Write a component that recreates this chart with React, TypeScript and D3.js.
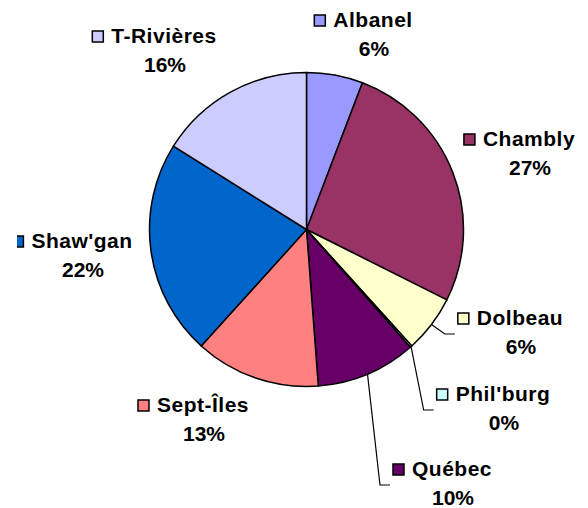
import React, { Component, createRef } from 'react'
import * as d3 from 'd3'

// share of each site
const sites = ['Albanel', 'Chambly', 'Dolbeau', "Phil'burg", 'Québec', 'Sept-Îles', "Shaw'gan", 'T-Rivières']
const shares = [5.8, 26.6, 5.9, 0.2, 10.3, 12.9, 22.2, 16.1]
const colors = ['#9999ff', '#993366', '#ffffcc', '#ccffff', '#660066', '#ff8080', '#0066cc', '#ccccff']

// labels were dragged by hand in the original: centre of the name, baseline of the first line
const labelAt = [[373, 27], [529, 146], [520, 325], [503, 401], [452, 476], [203, 412], [82, 248], [164, 43]]
const withLeader = [false, false, true, true, true, false, false, false]

export default class App extends Component {
  chartRef = createRef<HTMLDivElement>()

  componentDidMount () {
    this.renderChart()
  }

  renderChart () {
    const width = 588
    const height = 508
    const cx = 306.5
    const cy = 229.5
    const radius = 157
    const lineGap = 29

    const container = d3.select(this.chartRef.current)
    container.selectAll('*').remove()

    const svg = container.append('svg')
      .attr('width', width)
      .attr('height', height)
      .style('display', 'block')

    svg.append('defs').append('clipPath')
      .attr('id', 'label-clip')
      .append('rect')
      .attr('x', 17)
      .attr('y', 0)
      .attr('width', width - 17)
      .attr('height', height)

    const total = d3.sum(shares)
    const pct = d3.format('.0%')

    const pie = d3.pie<number>().sort(null).value(d => d)
    const arcs = pie(shares)
    const arc = d3.arc<d3.PieArcDatum<number>>()
      .innerRadius(0)
      .outerRadius(radius)

    const g = svg.append('g')
      .attr('transform', 'translate(' + cx + ',' + cy + ')')

    g.selectAll('.slice')
      .data(arcs)
      .enter()
      .append('path')
      .attr('class', 'slice')
      .attr('d', arc)
      .attr('fill', (d, i) => colors[i])
      .attr('stroke', '#000')
      .attr('stroke-width', 1.5)
      .attr('stroke-linejoin', 'round')

    const labels = svg.append('g')
      .attr('clip-path', 'url(#label-clip)')
      .attr('font-family', 'Arial, "Liberation Sans", sans-serif')
      .attr('font-weight', 'bold')
      .attr('font-size', 21)
      .attr('fill', '#000')

    const line = d3.line()

    arcs.forEach((d, i) => {
      const [x, y] = labelAt[i]
      const name = labels.append('text')
        .attr('x', x)
        .attr('y', y)
        .attr('text-anchor', 'middle')
        .attr('letter-spacing', 0.5)
        .text(sites[i])
      const w = (name.node() as SVGTextElement).getComputedTextLength()
      const left = x - w / 2 - 8 - 11

      labels.append('rect')
        .attr('x', left)
        .attr('y', y - 12)
        .attr('width', 11)
        .attr('height', 11)
        .attr('fill', colors[i])
        .attr('stroke', '#000')
        .attr('stroke-width', 1.5)

      labels.append('text')
        .attr('x', x + 1)
        .attr('y', y + lineGap)
        .attr('text-anchor', 'middle')
        .text(pct(d.data / total))

      // leader from the middle of the slice's rim to the dragged label
      if (withLeader[i]) {
        const mid = (d.startAngle + d.endAngle) / 2
        const px = cx + radius * Math.sin(mid)
        const py = cy - radius * Math.cos(mid)
        svg.append('path')
          .attr('d', line([[px, py], [left - 13, y + 9], [left - 3, y + 9]]))
          .attr('fill', 'none')
          .attr('stroke', '#000')
          .attr('stroke-width', 1.2)
      }
    })
  }

  render () {
    return (
      <div ref={this.chartRef} style={{ position: 'absolute', left: 0, top: 0 }} />
    )
  }
}
